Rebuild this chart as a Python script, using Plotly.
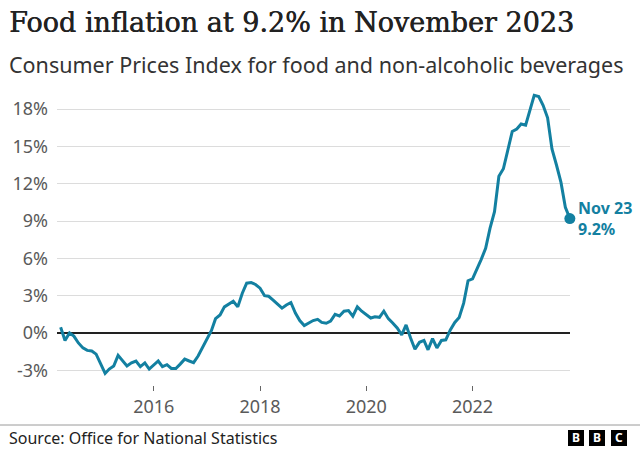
import pandas as pd
import plotly.graph_objects as go

# ---- data (annual % change, CPI food & non-alcoholic beverages) ----
start_month = "2014-04-01"
inflation = [
    0.46, -0.6, 0.0, -0.25, -0.8, -1.2, -1.4, -1.45, -1.7, -2.5,
    -3.25, -2.9, -2.65, -1.8, -2.2, -2.65, -2.4, -2.25, -2.7, -2.4,
    -2.9, -2.6, -2.25, -2.7, -2.55, -2.85, -2.85, -2.5, -2.1, -2.25,
    -2.38, -1.85, -1.2, -0.55, 0.2, 1.15, 1.45, 2.1, 2.3, 2.55,
    2.1, 3.2, 4.0, 4.05, 3.9, 3.6, 3.0, 2.95, 2.65, 2.3,
    2.0, 2.25, 2.45, 1.6, 1.0, 0.6, 0.8, 1.0, 1.1, 0.85,
    0.78, 0.95, 1.5, 1.37, 1.75, 1.8, 1.35, 2.1, 1.75, 1.5,
    1.2, 1.3, 1.26, 1.75, 1.15, 0.8, 0.4, -0.15, 0.65, -0.4,
    -1.3, -0.75, -0.6, -1.35, -0.45, -1.2, -0.6, -0.55, 0.25, 0.85,
    1.25, 2.4, 4.2, 4.35, 5.1, 5.9, 6.8, 8.4, 9.75, 12.6,
    13.2, 14.7, 16.2, 16.4, 16.8, 16.7, 18.0, 19.1, 19.0, 18.3,
    17.3, 14.8, 13.5, 12.1, 10.1, 9.2,
]
months = pd.date_range(start_month, periods=len(inflation), freq="MS")

y_tickvals = [-3, 0, 3, 6, 9, 12, 15, 18]
y_ticktext = ["-3%", "0%", "3%", "6%", "9%", "12%", "15%", "18%"]
x_tickvals = ["2016-01-01", "2018-01-01", "2020-01-01", "2022-01-01"]
x_ticktext = ["2016", "2018", "2020", "2022"]

end_label = "Nov 23<br>9.2%"
title_text = "Food inflation at 9.2% in November 2023"
subtitle_text = "Consumer Prices Index for food and non-alcoholic beverages"
source_text = "Source: Office for National Statistics"

# ---- style ----
LINE = "#1380A1"
GREY = "#5a5a5a"
W, H = 640, 450
L, R, T, B = 57, 70, 89, 65
PW, PH = W - L - R, H - T - B


def xp(px):
    return (px - L) / PW


def yp(py):
    return (H - B - py) / PH


fig = go.Figure()
fig.add_trace(go.Scatter(
    x=months, y=inflation, mode="lines",
    line=dict(color=LINE, width=3), cliponaxis=False, hoverinfo="skip",
))
fig.add_trace(go.Scatter(
    x=[months[-1]], y=[inflation[-1]], mode="markers",
    marker=dict(color=LINE, size=11), cliponaxis=False, hoverinfo="skip",
))

shapes = [
    dict(type="line", xref="paper", yref="paper", x0=xp(0), x1=xp(640),
         y0=yp(425), y1=yp(425), line=dict(color="#9a9a9a", width=1)),
]
annotations = [
    dict(text=title_text, xref="paper", yref="paper", x=xp(7), y=yp(23),
         xanchor="left", yanchor="middle", showarrow=False,
         font=dict(family="DejaVu Serif", size=27, color="#222222",
                   shadow="0.6px 0px 0px #222222")),
    dict(text=subtitle_text, xref="paper", yref="paper", x=xp(7), y=yp(65),
         xanchor="left", yanchor="middle", showarrow=False,
         font=dict(family="Noto Sans", size=21.5, color="#333333")),
    dict(text=source_text, xref="paper", yref="paper", x=xp(7), y=yp(438),
         xanchor="left", yanchor="middle", showarrow=False,
         font=dict(family="Noto Sans", size=16, color="#222222")),
    dict(text=end_label, x=months[-1], y=inflation[-1], xref="x", yref="y",
         xanchor="left", yanchor="middle", xshift=6, showarrow=False, align="left",
         font=dict(family="Noto Sans", size=16, color=LINE, weight="bold")),
]
for x0, letter in zip([568, 589, 611], ["B", "B", "C"]):
    shapes.append(dict(type="rect", xref="paper", yref="paper",
                       x0=xp(x0), x1=xp(x0 + 16), y0=yp(446), y1=yp(430),
                       fillcolor="#000000", line=dict(width=0)))
    annotations.append(dict(text=letter, xref="paper", yref="paper",
                            x=xp(x0 + 8), y=yp(438), xanchor="center", yanchor="middle",
                            showarrow=False,
                            font=dict(family="Noto Sans", size=12, color="#ffffff", weight="bold")))

fig.update_layout(
    width=W, height=H,
    margin=dict(l=L, r=R, t=T, b=B),
    paper_bgcolor="#ffffff", plot_bgcolor="#ffffff",
    showlegend=False,
    shapes=shapes, annotations=annotations,
    xaxis=dict(
        range=["2014-03-07", "2023-11-02"],
        tickvals=x_tickvals, ticktext=x_ticktext,
        ticks="outside", ticklen=5, tickcolor="#666666", tickwidth=1,
        showgrid=False, showline=False, zeroline=False,
        tickfont=dict(family="Noto Sans", size=18, color=GREY),
    ),
    yaxis=dict(
        range=[-4.18, 19.61],
        tickvals=y_tickvals, ticktext=y_ticktext,
        showgrid=True, gridcolor="#dcdcdc", gridwidth=1,
        zeroline=True, zerolinecolor="#222222", zerolinewidth=2,
        showline=False, ticks="", ticklabelstandoff=8,
        tickfont=dict(family="Noto Sans", size=18, color=GREY),
    ),
)

fig.write_html("out.html", config={"displayModeBar": False},
               post_script="document.body.style.margin='0';document.body.style.padding='0';")
